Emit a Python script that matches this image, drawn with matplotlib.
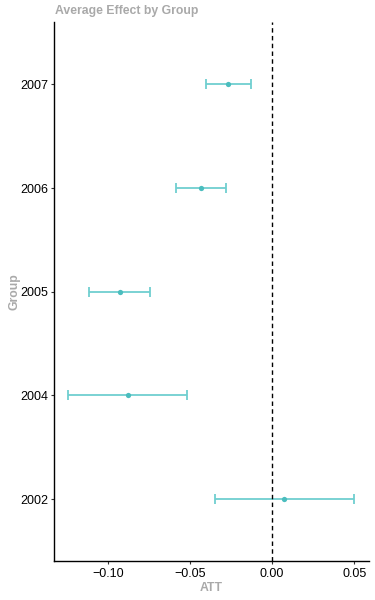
import matplotlib
matplotlib.use("Agg")
import matplotlib.pyplot as plt
import numpy as np

plt.rcParams['font.family'] = ['Liberation Sans', 'DejaVu Sans']

# data
groups = ['2002', '2004', '2005', '2006', '2007']
att = [0.0075, -0.0880, -0.0927, -0.0435, -0.0268]
ci_lo = [-0.0351, -0.1241, -0.1113, -0.0583, -0.0404]
ci_hi = [0.0501, -0.0516, -0.0744, -0.0284, -0.0131]
xticks = [-0.10, -0.05, 0.00, 0.05]
xticklabels = ['\u22120.10', '\u22120.05', '0.00', '0.05']

line_col = '#6fcfd0'
point_col = '#4bbdbe'
grey = '#a9a9a9'

fig = plt.figure(figsize=(3.75, 6), dpi=100)
ax = fig.add_axes([0.145, 0.0645, 0.839, 0.8985])

y = np.arange(1, len(groups) + 1)
att = np.array(att)
lo = att - np.array(ci_lo)
hi = np.array(ci_hi) - att

ax.errorbar(att, y, xerr=[lo, hi], fmt='none', ecolor=line_col,
            elinewidth=1.3, capsize=3.3, capthick=1.3)
ax.plot(att, y, 'o', color=point_col, markersize=3.8, markeredgewidth=0)
ax.axvline(0, color='black', linestyle=(0, (3.2, 2.4)), linewidth=1.0)

ax.set_xlim(-0.1327, 0.0590)
ax.set_ylim(0.4, 5.6)
ax.set_yticks(y)
ax.set_yticklabels(groups)
ax.set_xticks(xticks)
ax.set_xticklabels(xticklabels)

for s in ['top', 'right']:
    ax.spines[s].set_visible(False)
for s in ['left', 'bottom']:
    ax.spines[s].set_linewidth(1.0)
ax.tick_params(axis='both', length=2.5, width=0.8, color='#333333',
               labelsize=9, labelcolor='black', pad=2)

ax.set_xlabel('ATT', fontsize=8.8, fontweight='bold', color=grey, labelpad=2)
ax.set_ylabel('Group', fontsize=8.8, fontweight='bold', color=grey)
ax.yaxis.set_label_coords(-0.108, 0.5)
fig.text(0.147, 0.981, 'Average Effect by Group', fontsize=8.8,
         fontweight='bold', color=grey, ha='left', va='center')

fig.savefig('out.png', dpi=100)
